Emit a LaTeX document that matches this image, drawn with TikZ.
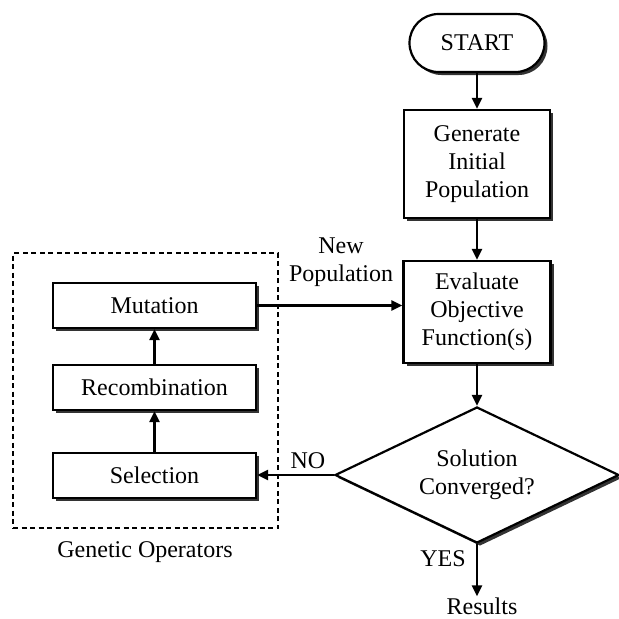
\documentclass[tikz,border=0pt]{standalone}
\usepackage{fontspec}
\setmainfont{Liberation Serif}
\usetikzlibrary{shapes.geometric,shadows,arrows.meta}
\begin{document}
\begin{tikzpicture}[x=1pt,y=-1pt,
  txt/.style={font=\fontsize{24}{28}\selectfont, align=center},
  shad/.style={drop shadow={shadow xshift=3pt, shadow yshift=-3pt, fill=black, opacity=0.8}},
  box/.style={txt, draw, line width=2.2pt, fill=white, shad, inner sep=0pt},
  arr/.style={line width=2.2pt, -{Triangle[length=11pt,width=10pt]}}
]
\useasboundingbox (0,0) rectangle (619,619);
\node[box, rounded corners=29pt, minimum width=135pt, minimum height=58pt] (start) at (477,43) {START};
\node[box, minimum width=146pt, minimum height=108pt] (gen) at (477,164) {Generate\\Initial\\Population};
\node[box, minimum width=147pt, minimum height=102pt] (eval) at (477,312) {Evaluate\\Objective\\Function(s)};
\node[box, shape=diamond, aspect=2.088, minimum width=284pt, minimum height=136pt] (dec) at (477,475) {Solution\\Converged?};
\node[draw, dash pattern=on 5pt off 3.5pt, line width=1.8pt, minimum width=265pt, minimum height=275pt, inner sep=0pt] (ops) at (145.5,390.5) {};
\node[box, minimum width=203pt, minimum height=45pt] (mut) at (154.5,305.5) {Mutation};
\node[box, minimum width=203pt, minimum height=45pt] (rec) at (154.5,387.5) {Recombination};
\node[box, minimum width=203pt, minimum height=45pt] (sel) at (154.5,475.5) {Selection};
\node[txt] (newpop) at (341,262) {New\\Population};
\node[txt] (no) at (308,461) {NO};
\node[txt] (yes) at (443,559) {YES};
\node[txt, inner sep=1pt] (res) at (482,606) {Results};
\node[txt] (gop) at (145,552) {Genetic Operators};
\draw[arr] (start) -- (gen);
\draw[arr] (gen) -- (eval);
\draw[arr] (eval) -- (dec);
\draw[arr] (dec.south) -- (dec.south |- res.north);
\draw[arr] (sel) -- (rec);
\draw[arr] (rec) -- (mut);
\draw[arr] (mut.east) -- (mut.east -| eval.west);
\draw[arr] (dec.west) -- (dec.west -| sel.east);
\end{tikzpicture}
\end{document}
